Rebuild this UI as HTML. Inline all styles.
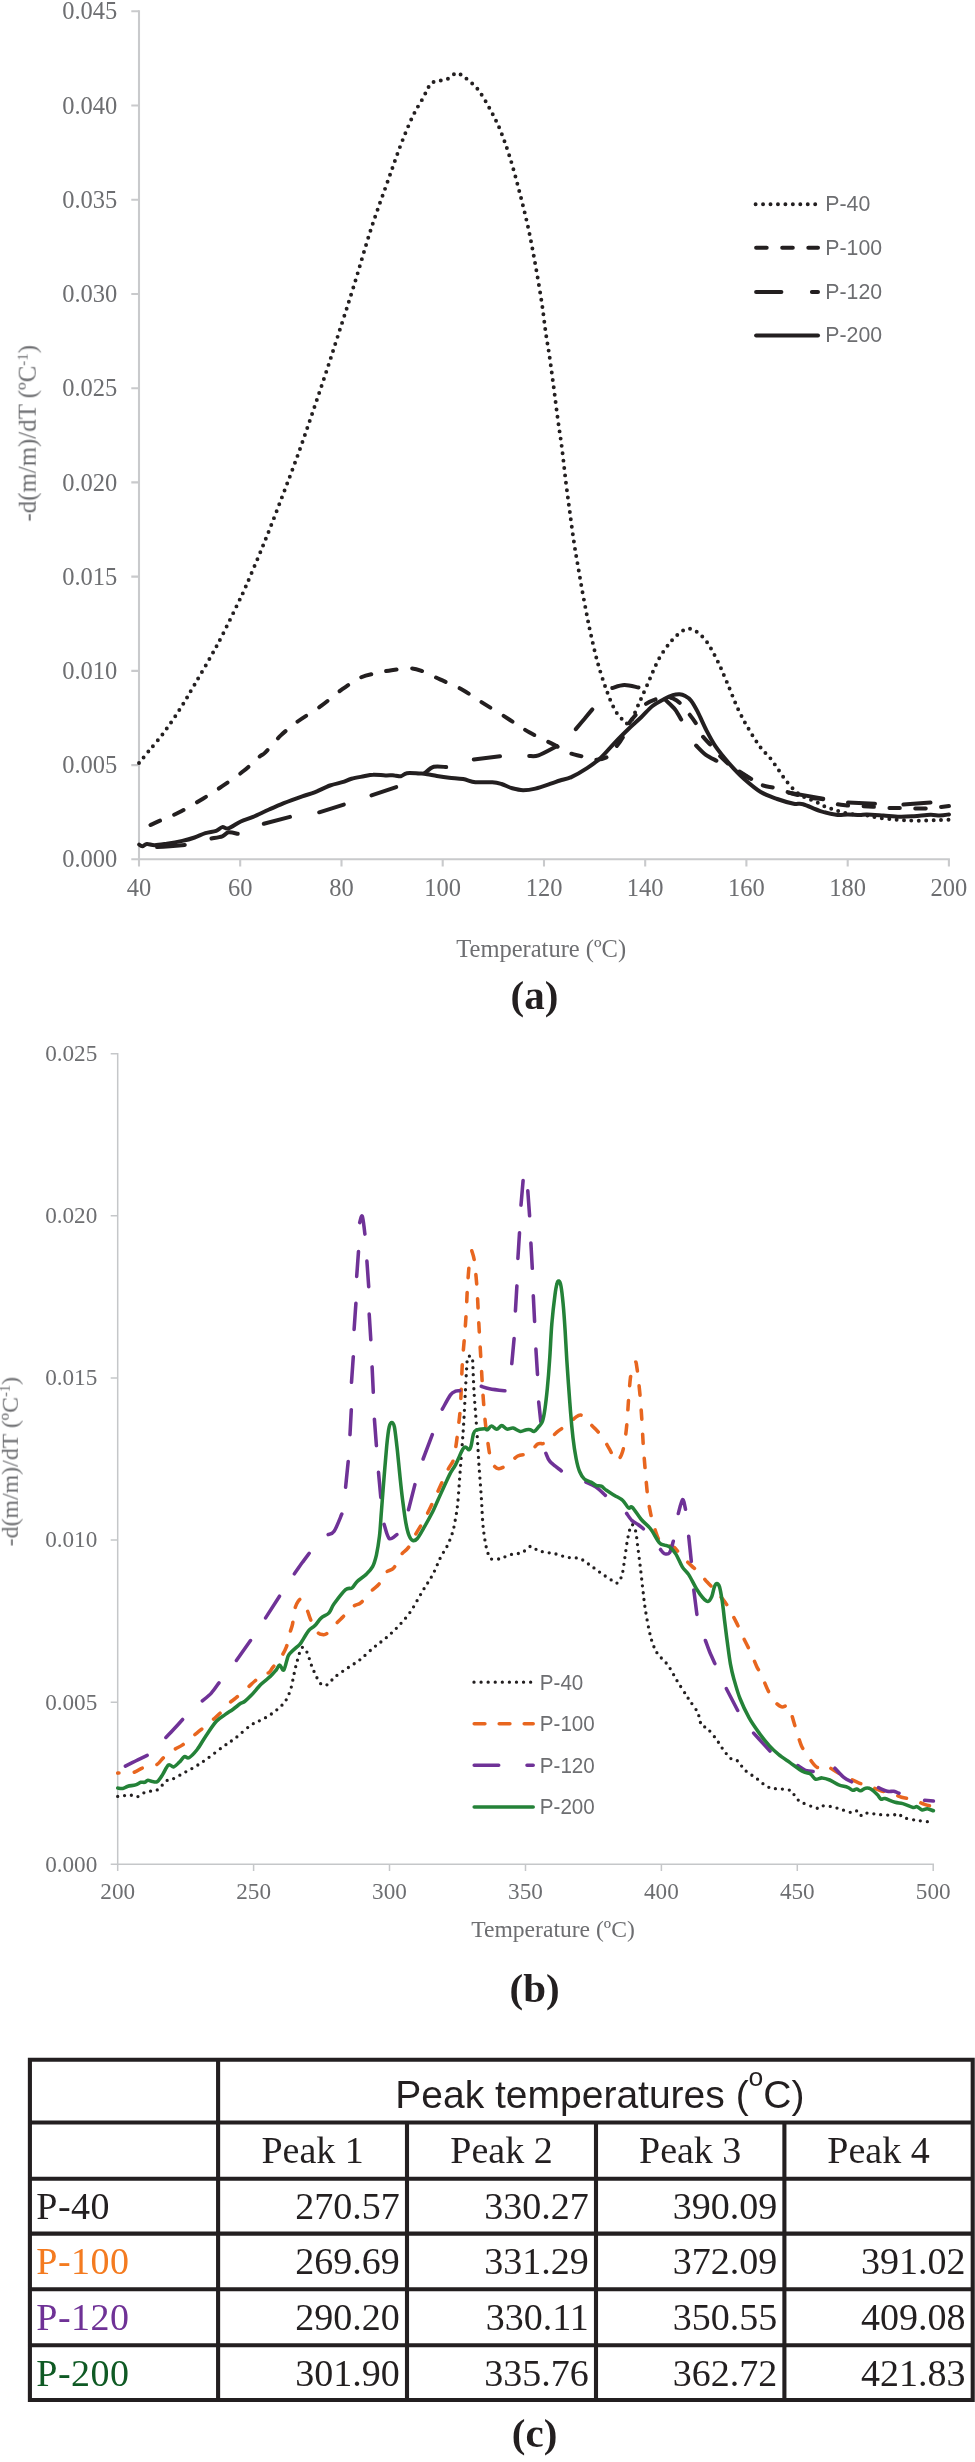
<!DOCTYPE html>
<html lang="en">
<head>
<meta charset="utf-8">
<title>DTG curves and peak temperatures</title>
<style>
html,body{margin:0;padding:0;background:#fff;}
body{width:975px;height:2462px;overflow:hidden;}
svg{display:block;will-change:transform;}
.tk{font-family:"Liberation Serif", "Times New Roman", serif;fill:#6d6e71;}
.lg{font-family:"Liberation Sans", Arial, sans-serif;fill:#6d6e71;}
.cap{font-family:"Liberation Serif", "Times New Roman", serif;font-weight:bold;fill:#231f20;}
.tb{font-family:"Liberation Serif", "Times New Roman", serif;fill:#231f20;}
.ln{fill:none;stroke-linecap:round;stroke-linejoin:round;}
</style>
</head>
<body>
<svg width="975" height="2462" viewBox="0 0 975 2462">
<rect x="0" y="0" width="975" height="2462" fill="#ffffff"/>
<g opacity="0.999">

<g id="chart-a">
<g stroke="#c9cacc" stroke-width="2.1" fill="none">
<path d="M139 10.2 V866.6 M131.3 859.3 H949.9"/>
<path d="M131.3 765.1 H139 M131.3 670.9 H139 M131.3 576.6 H139 M131.3 482.4 H139 M131.3 388.2 H139 M131.3 294 H139 M131.3 199.7 H139 M131.3 105.5 H139 M131.3 11.3 H139 M240.2 859.3 V866.6 M341.5 859.3 V866.6 M442.7 859.3 V866.6 M544 859.3 V866.6 M645.2 859.3 V866.6 M746.4 859.3 V866.6 M847.7 859.3 V866.6 M948.9 859.3 V866.6"/>
</g>
<g class="tk" font-size="24.5">
<text x="117.3" y="867.4" text-anchor="end">0.000</text>
<text x="117.3" y="773.2" text-anchor="end">0.005</text>
<text x="117.3" y="679" text-anchor="end">0.010</text>
<text x="117.3" y="584.7" text-anchor="end">0.015</text>
<text x="117.3" y="490.5" text-anchor="end">0.020</text>
<text x="117.3" y="396.3" text-anchor="end">0.025</text>
<text x="117.3" y="302.1" text-anchor="end">0.030</text>
<text x="117.3" y="207.8" text-anchor="end">0.035</text>
<text x="117.3" y="113.6" text-anchor="end">0.040</text>
<text x="117.3" y="19.4" text-anchor="end">0.045</text>
<text x="139" y="896" text-anchor="middle">40</text>
<text x="240.2" y="896" text-anchor="middle">60</text>
<text x="341.5" y="896" text-anchor="middle">80</text>
<text x="442.7" y="896" text-anchor="middle">100</text>
<text x="544" y="896" text-anchor="middle">120</text>
<text x="645.2" y="896" text-anchor="middle">140</text>
<text x="746.4" y="896" text-anchor="middle">160</text>
<text x="847.7" y="896" text-anchor="middle">180</text>
<text x="948.9" y="896" text-anchor="middle">200</text>
<text x="541.2" y="956.6" text-anchor="middle">Temperature (ºC)</text>
<text transform="translate(35.7 433.3) rotate(-90)" text-anchor="middle" font-size="24.9">-d(m/m)/dT (ºC<tspan font-size="15" dy="-8.5">-1</tspan><tspan dy="8.5">)</tspan></text>
</g>
<g class="ln" stroke="#231f20" stroke-width="4.0">
<path d="M139 763 C140.6 761.1 144.2 756.6 148.5 751.4 C152.8 746.2 159.1 739 164.5 731.7 C169.9 724.4 175.8 715.6 180.8 707.7 C185.8 699.9 189.6 693.1 194.6 684.6 C199.6 676.1 205.7 665.6 210.6 656.9 C215.5 648.2 219.2 641.4 223.8 632.3 C228.4 623.2 234.6 610.3 238.3 602.5 C242.1 594.7 242.1 595.1 246.3 585.4 C250.5 575.7 257.9 558.2 263.5 544.5 C269.1 530.8 274.5 516.8 279.8 502.9 C285.1 489 290.4 475.3 295.5 461.4 C300.6 447.4 305.5 433.2 310.3 419.2 C315.1 405.1 319.8 391.2 324.5 377.1 C329.2 363 333.4 349.9 338.3 334.6 C343.2 319.3 348.5 303.1 354 285.4 C359.5 267.7 365.4 246.2 371.2 228.5 C376.9 210.8 383.6 193.1 388.5 179.2 C393.4 165.2 396.8 155.2 400.8 144.8 C404.8 134.4 408.8 124.7 412.5 116.8 C416.2 108.9 420.3 103 423.2 97.7 C426.1 92.4 427.8 87.6 430 84.8 C432.2 82 434 81.9 436.2 81.1 C438.4 80.3 440.9 80.8 443.2 80.2 C445.5 79.6 447.9 78.9 450 77.7 C452.1 76.5 453.9 73.5 455.8 73.1 C457.8 72.7 459.7 74.1 461.7 75.2 C463.7 76.3 465 77.3 467.8 79.8 C470.6 82.3 474.9 85.4 478.6 90.3 C482.3 95.2 486.4 102.5 490 109.1 C493.6 115.7 496.9 121.9 500.2 130 C503.5 138.1 506.7 147.2 510 157.7 C513.3 168.2 516.7 181.2 519.8 193.1 C522.9 205 525.9 217.1 528.5 229.1 C531.1 241.1 533.3 253.2 535.5 265.4 C537.7 277.6 540 291.3 541.7 302.3 C543.4 313.3 544.4 323.1 545.6 331.6 C546.8 340.2 547.8 345 549.1 353.6 C550.4 362.2 551.7 372.3 553.2 383.3 C554.7 394.3 556.4 408.8 557.9 419.8 C559.4 430.8 560.7 438.3 562.1 449.4 C563.5 460.5 565 475.3 566.4 486.3 C567.8 497.3 569 505.8 570.3 515.6 C571.6 525.4 573.1 536.5 574.4 545 C575.7 553.5 576.9 559.6 578.1 566.9 C579.4 574.2 580.6 581.5 581.9 588.9 C583.2 596.2 584.7 603.7 586.1 611 C587.5 618.3 588.6 624.4 590.5 632.7 C592.4 641 594.6 651.4 597.2 660.9 C599.8 670.4 603.3 681.3 606.3 689.6 C609.3 697.9 612.2 705.2 615.3 710.6 C618.4 716 622.7 719.7 624.8 721.8 C626.9 723.9 626.9 723.5 628 723.3 C629.1 723.1 629.9 723.4 631.5 720.5 C633.1 717.6 635.2 711.8 637.8 706 C640.4 700.2 643.4 693.5 646.9 685.7 C650.4 677.9 654.7 666.6 658.8 659.1 C662.9 651.6 667.7 645.4 671.7 640.6 C675.7 635.8 680.1 632.5 683 630.5 C685.9 628.5 687 628.5 689.3 628.7 C691.5 628.9 693.6 629.4 696.5 631.6 C699.4 633.8 703.2 636.8 706.7 641.7 C710.2 646.6 714.1 654.1 717.5 660.9 C720.9 667.7 723.5 674.3 727 682.4 C730.5 690.5 734.5 701.5 738.2 709.4 C741.9 717.3 745.3 723.3 749.1 729.7 C752.9 736.1 757.1 742.9 760.8 747.8 C764.4 752.7 767.3 754.3 771 759.1 C774.7 763.9 779.9 772.2 783.1 776.6 C786.3 781 787.7 782.9 790 785.5 C792.3 788.1 794.7 790.6 797 792.5 C799.3 794.4 801.6 795.8 804 797 C806.4 798.2 809 799 811.4 800 C813.8 801 816.1 801.9 818.5 803 C820.9 804.1 823.1 805.8 825.5 806.8 C827.9 807.8 830.2 808.4 832.6 809.2 C835 810 837.1 810.8 839.7 811.5 C842.3 812.2 845 812.9 848 813.5 C851 814.1 854.7 814.7 858 815 C861.3 815.3 865 815.1 868 815.5 C871 815.9 872.6 816.8 876.3 817.4 C880 818 885.7 818.6 890.4 819.1 C895.1 819.6 899.9 820 904.6 820.3 C909.3 820.6 913.6 820.7 918.7 820.7 C923.8 820.7 930.2 820.4 935.2 820.3 C940.2 820.1 946.7 819.9 949 819.8" stroke-width="3.95" stroke-dasharray="0 7.394"/>
<path d="M150.5 825 C152.2 824.2 156 822.4 160.8 820.3 C165.6 818.2 172.5 815.7 179.2 812.3 C185.9 808.9 193.6 804.4 200.8 800 C208 795.6 215.1 791.1 222.3 786.2 C229.5 781.3 237.7 775.7 243.8 770.8 C250 765.9 255.6 760 259.2 756.9 C262.8 753.8 261.8 755.9 265.4 752.3 C269 748.7 275.4 740.5 280.8 735.4 C286.2 730.3 291 726.4 297.7 721.5 C304.4 716.6 313.4 711.6 320.8 706.2 C328.2 700.8 335.6 694 342.3 689.2 C349 684.4 355.2 680.2 360.8 677.5 C366.4 674.8 371.1 674.4 376.2 673.2 C381.3 672 385.9 671 391.5 670.2 C397.1 669.4 405 668.2 410 668.3 C415 668.4 416.5 668.9 421.5 670.8 C426.5 672.6 433.3 676.3 440 679.4 C446.7 682.5 454.3 685.2 461.5 689.2 C468.7 693.2 475.4 698.2 483.1 703.1 C490.8 708 500 713.6 507.7 718.5 C515.4 723.4 521.5 727.9 529.2 732.3 C536.9 736.6 547.2 741.2 553.8 744.6 C560.4 748 564.5 750.9 569 752.8 C573.5 754.7 576.7 755 580.8 756.1 C584.9 757.2 589.5 759.5 593.8 759.7 C598 759.9 602.7 759.5 606.3 757.5 C609.9 755.5 612.6 751.1 615.3 747.8 C618 744.5 620.5 741.6 622.7 737.6 C625 733.6 626.6 727.4 628.8 723.6 C630.9 719.9 633 718.2 635.6 715.1 C638.2 712 641.2 707.5 644.6 704.9 C648 702.3 652.2 700.5 655.9 699.3 C659.6 698.1 664.1 697.6 667 697.5 C669.9 697.4 670.9 697.6 673 698.5 C675.1 699.4 676.9 700.1 679.6 702.7 C682.3 705.3 686.4 710.4 689.1 713.9 C691.9 717.4 693.9 720 696.1 723.6 C698.3 727.2 699.8 731.9 702.1 735.4 C704.4 738.9 707 741 710 744.4 C713 747.8 716.3 752.2 720 756 C723.7 759.8 728 763.8 732 767 C736 770.2 739 772 744 775 C749 778 756.8 782.8 762 785 C767.2 787.2 770 786.6 775 788 C780 789.4 786.2 791.8 792 793.5 C797.8 795.2 805 797.1 810 798 C815 798.9 817.8 798 822 799 C826.2 800 830.8 802.6 835 803.7 C839.2 804.8 842.7 805 847 805.4 C851.3 805.8 856.7 805.9 861 806.1 C865.3 806.3 868.7 806.5 873 806.8 C877.3 807.1 882.7 807.8 887 808 C891.3 808.2 894.8 807.9 899 808 C903.2 808.1 907.7 808.4 912 808.5 C916.3 808.6 920.7 808.7 925 808.5 C929.3 808.3 934 807.7 938 807.3 C942 806.9 947.2 806.3 949 806.1" stroke-dasharray="10.5 15.4"/>
<path d="M157.1 847.1 C159.2 847 165.4 846.6 170 846.2 C174.6 845.8 182.3 845.1 184.8 844.9 M211.5 838.5 C213.3 838.1 219.5 837.3 222.3 836.3 C225.1 835.3 225.9 832.7 228.5 832.3 C231.1 831.9 236.2 833.5 237.7 833.8 M263.8 823.7 L290 816.9 M319.2 812.3 L343.8 804.6 M371.5 795.4 L396.2 787.1 M424.6 773.2 C426.1 772.1 430.2 767.8 433.8 766.8 C437.4 765.8 444.1 767 446.2 767.1 M473.8 759.4 L500 756.3 M529.2 756 C530.8 755.9 533.9 757 538.5 755.4 C543.1 753.8 553.8 747.7 556.9 746.2 M575.8 729.1 C577.3 727.3 582 721.8 584.8 718.5 C587.5 715.2 591 710.9 592.3 709.4 M612.3 688 C614.3 687.5 619.9 685.2 624.3 685.1 C628.7 685 636.1 687.1 638.5 687.5 M666 700.4 C667.5 701.9 672.6 706.2 675.1 709.4 C677.6 712.6 680.2 717.9 681.2 719.6 M696.1 745.5 C697.7 747 702.1 752.1 705.5 754.6 C708.9 757.1 714.6 759.7 716.4 760.7 M739.4 771.5 L751.2 779 M789 792.7 L823.2 798.6 M848 802.6 L875 803.7 M903.4 804.5 L930.5 802.6"/>
<path d="M139.2 844.6 C139.7 844.9 141 846.3 142.3 846.2 C143.6 846.1 144.9 844.2 146.9 844 C148.9 843.8 151.3 845.2 154.6 845.2 C157.9 845.2 162.3 844.4 166.9 843.7 C171.5 843 177.7 841.9 182.3 840.9 C186.9 839.9 190.8 838.8 194.6 837.5 C198.4 836.2 201.8 834.3 205.4 833.2 C209 832.1 213.4 831.8 216.2 830.8 C219 829.8 220.2 827.5 222.3 827.1 C224.4 826.7 225.4 829.2 228.5 828.3 C231.6 827.4 236.7 823.4 240.8 821.5 C244.9 819.6 248.5 818.9 253.1 816.9 C257.7 814.9 263.4 812.1 268.5 809.8 C273.6 807.5 278.2 805.4 283.8 803.1 C289.4 800.9 297.2 798.1 302.3 796.3 C307.4 794.5 310 794.1 314.6 792.3 C319.2 790.5 325.4 787.2 330 785.5 C334.6 783.8 338.7 783.3 342.3 782.2 C345.9 781.1 347.9 779.8 351.5 778.8 C355.1 777.8 360.2 777 363.8 776.3 C367.4 775.6 369.5 774.9 373.1 774.8 C376.7 774.6 381.8 775.3 385.4 775.4 C389 775.5 392 775.2 394.6 775.4 C397.2 775.5 398.8 776.7 400.8 776.3 C402.9 775.9 403.8 773.7 406.9 773.2 C410 772.7 416.2 773.4 419.2 773.5 C422.1 773.6 421.7 773.4 424.6 773.8 C427.6 774.2 432.8 775.3 436.9 776 C441 776.7 444.8 777.3 449.2 777.8 C453.6 778.3 458.7 778.4 463.1 779.1 C467.5 779.8 470.5 781.7 475.4 782.2 C480.3 782.7 487.9 781.9 492.3 782.2 C496.7 782.5 498.2 783 501.5 784 C504.8 785 508.7 787.3 512.3 788.3 C515.9 789.3 519.2 790.2 523.1 790.2 C527 790.2 530.8 789.7 535.4 788.6 C540 787.5 546.7 785.1 550.8 783.7 C554.9 782.4 556.6 781.6 560 780.5 C563.4 779.4 566.8 779.2 571.3 777.1 C575.8 775 582.2 771.3 587.1 768.1 C592 764.9 596.1 762 600.6 757.9 C605.1 753.8 609.7 748 614.2 743.3 C618.7 738.6 623.2 734 627.7 729.7 C632.2 725.4 637.1 721.2 641.2 717.3 C645.3 713.3 648.7 709 652.5 706 C656.3 703 660.4 701.1 663.8 699.3 C667.2 697.5 670.2 696 672.8 695.2 C675.4 694.4 677.5 694.2 679.6 694.3 C681.7 694.4 683.3 694.9 685.2 695.9 C687.1 696.9 688.8 697.8 690.9 700.4 C693 703 695 706.6 697.6 711.7 C700.2 716.8 703.7 725.1 706.7 730.9 C709.7 736.7 712 741.2 715.7 746.7 C719.5 752.2 724.5 758.2 729.2 763.6 C734 769 739 774.3 744.2 779 C749.5 783.7 755.2 788.7 760.7 792 C766.2 795.3 771.7 797 777.2 799 C782.7 801 789.4 802.8 793.7 803.7 C798 804.6 798.8 803 803.1 804.2 C807.4 805.4 814.1 809 819.6 810.8 C825.1 812.6 831.5 814.2 836.2 814.8 C840.9 815.4 844.1 814.3 848 814.4 C851.9 814.5 856.6 815.1 859.7 815.1 C862.8 815.1 862.9 814.3 866.8 814.4 C870.7 814.5 877.8 815.1 883.3 815.5 C888.8 815.9 894.8 816.6 899.9 816.7 C905 816.8 908.9 816.5 914 816.2 C919.1 815.9 926.2 814.9 930.5 814.8 C934.8 814.7 936.9 815.6 940 815.5 C943.1 815.4 947.5 814.6 949 814.4"/>
</g>
<g class="ln" stroke="#231f20" stroke-width="4.0">
<path d="M755.6 204.3 H818.5" stroke-width="3.95" stroke-dasharray="0 7.45"/>
<path d="M756.1 247.8 H818" stroke-dasharray="10.6 15.5"/>
<path d="M756.1 292 H781.4 M811.9 292 H818"/>
<path d="M756.1 335.5 H818"/>
</g>
<g class="lg" font-size="22.3">
<text transform="translate(825.3 211.2) scale(0.955 1)">P-40</text>
<text transform="translate(825.3 254.9) scale(0.955 1)">P-100</text>
<text transform="translate(825.3 298.7) scale(0.955 1)">P-120</text>
<text transform="translate(825.3 342.4) scale(0.955 1)">P-200</text>
</g>
<text class="cap" x="534.4" y="1008.5" font-size="41" text-anchor="middle">(a)</text>
</g>
<g id="chart-b">
<g stroke="#c5c7c9" stroke-width="1.5" fill="none">
<path d="M117.7 1053 V1870.9 M110.7 1864.3 H934"/>
<path d="M110.7 1702.2 H117.7 M110.7 1540.1 H117.7 M110.7 1377.9 H117.7 M110.7 1215.8 H117.7 M110.7 1053.7 H117.7 M253.6 1864.3 V1870.9 M389.5 1864.3 V1870.9 M525.5 1864.3 V1870.9 M661.4 1864.3 V1870.9 M797.3 1864.3 V1870.9 M933.2 1864.3 V1870.9"/>
</g>
<g class="tk" font-size="23.2">
<text x="97.3" y="1871.6" text-anchor="end">0.000</text>
<text x="97.3" y="1709.5" text-anchor="end">0.005</text>
<text x="97.3" y="1547.4" text-anchor="end">0.010</text>
<text x="97.3" y="1385.2" text-anchor="end">0.015</text>
<text x="97.3" y="1223.1" text-anchor="end">0.020</text>
<text x="97.3" y="1061" text-anchor="end">0.025</text>
<text x="117.7" y="1898.8" text-anchor="middle">200</text>
<text x="253.6" y="1898.8" text-anchor="middle">250</text>
<text x="389.5" y="1898.8" text-anchor="middle">300</text>
<text x="525.5" y="1898.8" text-anchor="middle">350</text>
<text x="661.4" y="1898.8" text-anchor="middle">400</text>
<text x="797.3" y="1898.8" text-anchor="middle">450</text>
<text x="933.2" y="1898.8" text-anchor="middle">500</text>
<text x="553" y="1936.8" text-anchor="middle" font-size="23.6">Temperature (ºC)</text>
<text transform="translate(17.8 1461.6) rotate(-90)" text-anchor="middle" font-size="23.85">-d(m/m)/dT (ºC<tspan font-size="14.5" dy="-8.2">-1</tspan><tspan dy="8.2">)</tspan></text>
</g>
<g class="ln" stroke-width="3.55">
<path d="M117.7 1796.4 C118.8 1796.3 122 1795.8 124.1 1795.6 C126.2 1795.4 128.4 1794.9 130.5 1795.1 C132.6 1795.3 134.8 1797.2 136.9 1796.9 C139 1796.6 141.2 1794 143.3 1793.1 C145.4 1792.2 147.5 1791.7 149.7 1791.3 C151.8 1790.9 154.3 1791.3 156.2 1790.5 C158.1 1789.7 159.7 1787.8 161.3 1786.2 C162.9 1784.6 164 1782.2 165.9 1781 C167.8 1779.8 169.7 1780.4 172.8 1779 C175.9 1777.6 180.6 1774.7 184.4 1772.6 C188.2 1770.5 192.1 1768.5 195.9 1766.2 C199.7 1763.9 202.9 1761.7 207.4 1758.5 C211.9 1755.3 218.1 1750.3 222.8 1746.9 C227.5 1743.5 230.9 1741.5 235.6 1737.9 C240.3 1734.3 246.3 1728.3 251 1725.1 C255.7 1721.9 259.7 1721 263.8 1718.7 C267.9 1716.4 271.8 1713.9 275.4 1711 C278.9 1708.1 282.5 1705.2 285.1 1701.5 C287.7 1697.8 289.3 1693.3 290.8 1688.7 C292.3 1684.1 293 1678.4 294.1 1673.8 C295.2 1669.2 295.9 1665.3 297.2 1661 C298.5 1656.7 300.2 1649.2 301.8 1647.7 C303.4 1646.2 305.3 1649.2 306.9 1652.1 C308.5 1655 309.9 1661.3 311.3 1664.9 C312.7 1668.5 313.6 1670.7 315.1 1673.8 C316.6 1676.9 318.4 1681.4 320.3 1683.3 C322.2 1685.2 324.1 1686.1 326.7 1684.9 C329.2 1683.8 332 1679.3 335.6 1676.4 C339.2 1673.5 344.4 1670.2 348.5 1667.4 C352.6 1664.6 355.8 1663 360 1659.7 C364.2 1656.4 369.6 1650.9 373.8 1647.4 C378 1643.9 381.5 1641.8 385.4 1638.5 C389.2 1635.2 392.8 1632 396.9 1627.7 C400.9 1623.4 405.4 1618.9 409.7 1612.8 C414 1606.7 418.8 1597.4 422.6 1591 C426.5 1584.6 429.9 1579.9 432.8 1574.4 C435.8 1568.9 437.9 1562.7 440.3 1557.9 C442.7 1553.1 445.3 1549.9 447.4 1545.6 C449.4 1541.3 451.2 1536.9 452.6 1532.3 C454 1527.7 454.8 1522.7 455.6 1517.9 C456.5 1513.1 457.1 1509.4 457.7 1503.6 C458.3 1497.8 458.8 1489.9 459.3 1483.1 C459.8 1476.3 460.3 1469.4 460.8 1462.6 C461.3 1455.8 461.9 1448.9 462.4 1442.1 C462.9 1435.2 463.3 1429.7 463.8 1421.5 C464.3 1413.3 464.8 1402.4 465.3 1392.8 C465.8 1383.2 466.5 1370.1 466.9 1364.1 C467.3 1358.1 467 1358.2 467.9 1357 C468.8 1355.8 471.3 1355.8 472.1 1357 C472.9 1358.2 472.5 1358.1 472.8 1364.1 C473.1 1370.1 473.5 1383.2 474.1 1392.8 C474.7 1402.4 475.6 1413.3 476.2 1421.5 C476.8 1429.7 477.2 1435.2 477.6 1442.1 C478 1448.9 478.4 1455.8 478.8 1462.6 C479.2 1469.4 479.8 1476.3 480.3 1483.1 C480.8 1489.9 481.3 1496.8 481.7 1503.6 C482.1 1510.4 482.3 1517.9 482.9 1524.1 C483.4 1530.2 484.2 1535.7 485 1540.5 C485.8 1545.3 486.7 1549.7 487.8 1552.8 C488.9 1555.9 489.3 1558 491.5 1559 C493.7 1560 498.2 1559.1 500.8 1558.6 C503.4 1558.1 504.7 1556.7 506.9 1555.9 C509.1 1555.1 511.9 1554.2 514.1 1553.8 C516.3 1553.3 518.4 1553.8 520.3 1553.2 C522.2 1552.6 523.6 1551.6 525.4 1550.4 C527.2 1549.2 529 1546.4 530.9 1546.3 C532.8 1546.2 534.7 1548.8 536.7 1549.7 C538.7 1550.6 539.7 1551.1 542.8 1551.8 C545.9 1552.5 551 1552.9 555.1 1553.8 C559.2 1554.7 563.3 1556.5 567.4 1557.3 C571.5 1558.1 575.9 1557.3 579.7 1558.6 C583.5 1559.9 586.6 1562.8 590 1565.1 C593.4 1567.4 596.7 1570.1 600.3 1572.6 C603.9 1575.1 608.9 1578.6 611.8 1580.3 C614.7 1582 616 1583.8 617.7 1582.8 C619.4 1581.8 621 1578.5 622.1 1574.6 C623.2 1570.7 623.8 1564.8 624.6 1559.2 C625.5 1553.7 626.4 1546.2 627.2 1541.3 C628.1 1536.4 628.9 1532.5 629.7 1529.7 C630.6 1526.9 631.3 1524.4 632.3 1524.6 C633.3 1524.8 634.8 1527.8 635.6 1531 C636.5 1534.2 636.7 1538.2 637.4 1543.8 C638.1 1549.4 639.1 1557.1 640 1564.4 C640.9 1571.7 641.8 1580.2 642.6 1587.4 C643.5 1594.7 644 1600.9 645.1 1607.9 C646.2 1615 647.7 1623.7 649 1629.7 C650.3 1635.7 651.3 1639.7 652.8 1643.8 C654.3 1647.9 655.3 1650.5 657.9 1654.1 C660.5 1657.7 665 1661.1 668.2 1665.6 C671.4 1670.1 674.2 1676.1 677.2 1681 C680.2 1685.9 684.1 1691.8 686.2 1695.1 C688.3 1698.4 688.1 1698.1 690 1701 C691.9 1703.9 695.8 1708.5 697.7 1712.6 C699.6 1716.7 700 1722.9 701.5 1725.4 C703 1728 704.4 1725.8 706.7 1727.9 C709.1 1730 712.8 1734.6 715.6 1738.2 C718.4 1741.8 720.7 1746.3 723.3 1749.7 C725.9 1753.1 728.6 1756.9 731 1758.7 C733.4 1760.5 735 1758.9 737.4 1760.8 C739.8 1762.7 741.9 1767.3 745.1 1770.3 C748.3 1773.2 753.1 1775.8 756.7 1778.5 C760.3 1781.2 763.7 1784.7 766.9 1786.4 C770.1 1788.1 772.5 1788.2 775.9 1788.7 C779.3 1789.2 784.6 1788.8 787.4 1789.5 C790.2 1790.2 791.1 1791.1 792.6 1792.6 C794.1 1794.1 794.7 1796.8 796.4 1798.5 C798.1 1800.2 799.8 1801.3 802.8 1802.8 C805.8 1804.3 811.6 1806.5 814.4 1807.4 C817.2 1808.3 817.8 1808.5 819.5 1808.2 C821.2 1807.9 821.6 1805.6 824.6 1805.6 C827.6 1805.6 832.9 1807 837.4 1808.2 C841.9 1809.4 848.1 1812.2 851.5 1812.6 C854.9 1813 856.2 1810.2 857.9 1810.8 C859.6 1811.3 860.3 1815.5 861.8 1815.9 C863.3 1816.3 863.9 1813.3 866.9 1813.1 C869.9 1812.9 875.4 1814.3 879.7 1814.6 C884 1814.9 889.5 1815.2 892.6 1815.1 C895.7 1815 896.3 1813.4 898.2 1813.8 C900.1 1814.2 901 1816.6 904.1 1817.7 C907.2 1818.8 912.4 1819.6 916.9 1820.3 C921.4 1821 928.2 1821.8 931 1822.1 C933.8 1822.4 933 1822.3 933.4 1822.3" stroke="#231f20" stroke-width="3.3" stroke-dasharray="0 6.9"/>
<path d="M117.7 1773.1 C120.3 1773 128.9 1773.5 133.1 1772.6 C137.3 1771.7 139 1769.2 142.8 1767.9 C146.7 1766.6 152.8 1766.6 156.2 1764.9 C159.6 1763.2 160.4 1760.4 163.3 1757.9 C166.2 1755.4 170.4 1752.2 173.6 1750 C176.8 1747.8 179.3 1747.2 182.6 1744.9 C185.9 1742.6 190.2 1738.4 193.3 1735.9 C196.4 1733.4 197.8 1732.4 201 1729.7 C204.2 1727 209.5 1722.7 212.6 1720 C215.7 1717.3 216.9 1716.4 219.7 1713.6 C222.5 1710.8 226.5 1705.9 229.2 1703.3 C231.8 1700.7 232.5 1700.8 235.6 1698.2 C238.7 1695.6 244.7 1690.3 247.9 1687.4 C251.1 1684.5 252.1 1683.3 254.9 1681 C257.7 1678.7 262.2 1674.7 264.6 1673.3 C267 1671.9 267.6 1673.6 269 1672.6 C270.4 1671.6 270.9 1669.9 272.8 1667.4 C274.7 1665 278.2 1661.3 280.5 1657.9 C282.8 1654.5 284.9 1650.9 286.4 1646.9 C287.9 1642.9 288.5 1637.9 289.5 1634.1 C290.5 1630.2 291.8 1627.8 292.6 1623.8 C293.4 1619.8 293.5 1614 294.4 1610.3 C295.3 1606.5 297 1603 298.2 1601.3 C299.4 1599.6 300 1598.5 301.5 1600 C303 1601.5 305.6 1606.9 307.2 1610.3 C308.8 1613.7 309.3 1616.9 311 1620.5 C312.7 1624.1 315.5 1629.8 317.4 1632.1 C319.3 1634.4 321 1634.4 322.6 1634.6 C324.2 1634.8 324.9 1635.2 327.2 1633.3 C329.5 1631.4 334 1625.9 336.7 1623.1 C339.4 1620.3 340.3 1619.5 343.1 1616.7 C345.9 1613.9 350.3 1608.8 353.3 1606.4 C356.3 1604.1 358 1605.2 361 1602.6 C364 1600 368.3 1594.1 371.3 1591 C374.3 1587.9 376.5 1587.2 379 1584.1 C381.5 1581 383.7 1575 386.2 1572.3 C388.7 1569.6 391.4 1570.8 393.8 1567.9 C396.2 1565 398.4 1558.5 400.8 1555.1 C403.2 1551.7 405.9 1551 408.5 1547.4 C411.1 1543.8 413.6 1537.8 416.2 1533.3 C418.8 1528.8 421.2 1525.2 423.8 1520.5 C426.4 1515.8 428.9 1510.4 431.5 1505.1 C434.1 1499.8 436.4 1494.5 439.2 1488.5 C442 1482.5 445.8 1473.9 448.2 1469.2 C450.6 1464.5 452 1464.1 453.3 1460.3 C454.6 1456.5 455 1452 455.9 1446.2 C456.8 1440.4 457.7 1432.4 458.5 1425.6 C459.3 1418.8 459.9 1415 460.5 1405.1 C461.1 1395.2 461.6 1377.4 462.2 1366.2 C462.8 1355 463.7 1346.8 464.4 1337.9 C465.1 1329.1 465.7 1321.4 466.2 1313.1 C466.7 1304.8 466.9 1296.2 467.4 1287.9 C467.9 1279.7 468.9 1267.6 469.2 1263.6" stroke="#e8661f" stroke-dasharray="9.2 15" stroke-dashoffset="7.7"/>
<path d="M471.8 1250.8 C472.2 1252.5 473.5 1255 474.4 1261 C475.2 1267 476.3 1278.4 476.9 1286.7 C477.5 1295 477.8 1302.9 478.2 1311 C478.6 1319.1 479 1327.1 479.5 1335.4 C480 1343.7 480.5 1352.9 481 1361 C481.5 1369.1 481.9 1376.9 482.3 1384.1 C482.8 1391.3 483.1 1397 483.7 1404.1 C484.3 1411.2 484.8 1418.5 485.8 1426.7 C486.8 1434.9 488.4 1447.2 489.5 1453.3 C490.6 1459.4 491.1 1461 492.6 1463.6 C494.1 1466.2 496.2 1468.5 498.7 1468.7 C501.2 1468.9 504.3 1466.7 507.5 1464.6 C510.7 1462.5 514.3 1457.9 517.8 1456 C521.3 1454.1 525.2 1455.3 528.5 1453.3 C531.8 1451.3 535.3 1445.7 537.7 1444.1 C540.1 1442.5 541.1 1444.1 542.8 1443.7 C544.5 1443.3 545.5 1443.6 547.9 1441.6 C550.3 1439.6 554.1 1434.5 557.2 1431.8 C560.3 1429.1 563.3 1428 566.4 1425.6 C569.5 1423.2 573.2 1419.2 575.6 1417.4 C578 1415.6 579.1 1414.6 580.8 1415 C582.5 1415.4 583.7 1417.8 585.9 1419.9 C588.1 1422 591.4 1424.9 594.1 1427.7 C596.8 1430.5 599.8 1433.5 602.3 1436.9 C604.8 1440.3 606.8 1444.6 608.9 1448.2 C611 1451.8 613.1 1456.5 614.6 1458.5 C616.1 1460.5 616.5 1461.3 617.7 1460.5 C618.9 1459.7 620.7 1456.8 621.8 1453.9 C622.9 1451 623.6 1448.1 624.5 1443.1 C625.4 1438 626.2 1430.9 626.9 1423.6 C627.6 1416.2 628 1406.6 628.6 1399 C629.2 1391.4 629.8 1382.9 630.4 1378 C631 1373.1 632.1 1371.1 632.4 1369.7" stroke="#e8661f" stroke-dasharray="9.2 15" stroke-dashoffset="0"/>
<path d="M635.8 1362 C635.9 1362.3 635.9 1361.4 636.3 1363.6 C636.6 1365.8 637.2 1368.9 637.9 1374.9 C638.6 1380.9 639.7 1391.3 640.4 1399.5 C641.1 1407.7 641.6 1415.9 642.1 1424.1 C642.6 1432.3 642.9 1440.5 643.5 1448.7 C644.1 1456.9 644.8 1465.2 645.5 1473.3 C646.2 1481.4 647 1491.1 647.8 1497.5 C648.6 1503.9 649.5 1507.7 650.3 1511.8 C651.1 1515.9 651.9 1518.9 652.8 1522.1 C653.7 1525.3 654.4 1527.8 655.5 1531 C656.6 1534.2 658.2 1539.2 659.7 1541.5 C661.2 1543.8 662.8 1543.8 664.4 1544.6 C666 1545.3 667.8 1545.5 669.5 1546 C671.2 1546.5 672.7 1546.1 674.6 1547.7 C676.5 1549.3 678.2 1552.4 681 1555.4 C683.8 1558.4 688.3 1562.7 691.3 1565.6 C694.3 1568.5 696.3 1569.8 699 1572.6 C701.7 1575.4 704.8 1579.5 707.4 1582.3 C710 1585.1 711.5 1586.3 714.4 1589.5 C717.3 1592.7 722 1598.1 724.6 1601.5 C727.2 1604.9 727.8 1606.6 729.7 1610 C731.6 1613.4 734.4 1618.4 736.2 1622.1 C738.1 1625.8 739.1 1628.7 740.8 1632.3 C742.5 1635.9 744.6 1640.2 746.4 1643.8 C748.2 1647.4 749.8 1650.3 751.5 1654.1 C753.2 1657.9 755 1662.8 756.7 1666.4 C758.4 1670 760.1 1672.3 761.8 1675.9 C763.5 1679.5 765.1 1684.1 766.9 1687.9 C768.7 1691.8 770.2 1695.9 772.6 1699 C775 1702.1 778.5 1705.6 781 1706.7 C783.5 1707.8 785.9 1705 787.4 1705.4 C788.9 1705.8 788.9 1706.4 790 1709.2 C791.1 1712 792.6 1718.1 793.8 1722.1 C795 1726.1 795.9 1729.1 797.2 1733.1 C798.5 1737.1 799.8 1742.2 801.5 1745.9 C803.2 1749.6 804.8 1751.9 807.4 1755.4 C810 1759 814 1765.6 816.9 1767.2 C819.8 1768.8 820.8 1764 824.6 1765.1 C828.5 1766.2 834.2 1771 840 1774 C845.8 1777 854.7 1781.2 859.2 1783.1 C863.7 1784.9 863.3 1783.8 866.9 1785.1 C870.5 1786.4 877.4 1789.6 881 1790.8 C884.6 1792 885.3 1791 888.7 1792.1 C892.1 1793.2 897.6 1796 901.5 1797.2 C905.4 1798.4 907.9 1798 911.8 1799.2 C915.6 1800.4 921 1803.2 924.6 1804.4 C928.2 1805.7 931.9 1806.3 933.4 1806.7" stroke="#e8661f" stroke-dasharray="9.2 15" stroke-dashoffset="0"/>
<path stroke="#6f3297" d="M125.4 1766.2 C127.1 1765.3 132 1762.8 135.6 1761 C139.2 1759.2 145.3 1756.3 147.2 1755.4 M165.9 1737.4 C167.1 1736.2 170 1733.3 172.8 1730.3 C175.6 1727.3 181 1721.3 182.6 1719.5 M202.3 1700.8 C203.8 1699.5 208.5 1696.1 211.3 1693.1 C214.1 1690.1 217.7 1684.5 219 1682.8 M236.4 1660.5 L250.5 1640.5 M265.6 1617.9 L279.5 1596.2 M294.4 1573.8 C295.7 1572 299.6 1566.2 302.1 1562.8 C304.6 1559.4 308 1554.9 309.2 1553.3 M328.2 1534.6 C329.2 1534 331.8 1534.7 334.1 1531.3 C336.4 1527.9 340.5 1517 341.8 1514.1 M345.6 1487.2 L348.2 1461.5 M350 1434.6 L351.3 1409.7 M351.5 1382.3 L353.3 1356.7 M354.1 1329.5 L355.9 1303.3 M356.7 1276.4 L358.5 1251.5 M359.7 1222.6 C360.1 1221.5 361.4 1214.3 362.3 1216.2 C363.2 1218.1 364.5 1231.1 364.9 1234.1 M366.9 1261 L368.7 1286.7 M369.2 1314.1 L370.8 1339.7 M372.1 1366.9 L373.3 1392.3 M374.4 1419.2 L376.4 1445.6 M378.5 1472.3 L380.8 1497.4 M384.1 1524.4 C385 1526.8 387.1 1536.8 389.2 1538.5 C391.3 1540.2 395.6 1535.2 396.9 1534.6 M408.5 1509.7 L414.9 1484.6 M423.1 1459 L432.3 1434.6 M442.3 1409.2 C443.7 1406.8 448.3 1397.9 450.5 1394.9 C452.7 1391.9 454.1 1391.9 455.6 1391.2 C457.1 1390.5 459 1390.9 459.7 1390.8 M481.3 1386.3 C482.7 1386.7 485.6 1388 489.5 1388.7 C493.4 1389.5 502.3 1390.5 504.9 1390.8 M511.8 1363.6 L514.1 1338.5 M515.4 1311 L516.9 1285.9 M517.9 1258.5 L519.5 1232.8 M521 1205.1 L523.1 1180.5 M527.8 1190.8 L529.6 1215.8 M530.9 1243.1 L532.3 1268.3 M533.3 1295.8 L534.6 1321.5 M535.9 1349 L537.5 1374.4 M538.7 1402.1 L540.8 1421.5 M545.9 1453.3 C546.6 1454.7 547.4 1458.6 550 1461.5 C552.6 1464.4 559.4 1469.2 561.3 1470.8 M585.9 1482.1 C587.6 1482.9 592.8 1484.8 596 1487 C599.2 1489.2 603.8 1494 605.4 1495.4 M626.6 1513.4 C627.5 1514.6 630.1 1518.8 632 1520.6 C633.9 1522.4 636.1 1523.1 638 1524.5 C639.9 1525.9 642.5 1528.1 643.4 1528.8 M660.5 1549.5 C661.1 1550.2 662.9 1553 664.4 1553.6 C665.9 1554.1 668 1554.8 669.5 1552.8 C671 1550.8 672.7 1543.2 673.3 1541.3 M678.3 1513.5 C679 1511.2 681.4 1500.3 682.6 1499.6 C683.8 1498.9 685 1507.6 685.5 1509.2 M688.7 1536.2 L691.3 1561.3 M693.8 1590 L696.9 1614.4 M705.4 1640.5 C706.2 1642.5 708.4 1649 710 1652.8 C711.6 1656.6 714.1 1661.8 714.9 1663.6 M726.4 1688.7 L737.7 1710.5 M753.6 1733.1 C755 1734.6 759.1 1739.1 761.8 1742.1 C764.5 1745.1 768.6 1749.5 770 1751 M797.7 1765.6 C799 1766.4 802.8 1769.3 805.4 1770.3 C808 1771.3 811.8 1771.3 813.1 1771.5 M834.9 1768.2 C836.4 1769.7 841 1775.1 843.8 1777.4 C846.6 1779.7 850.2 1781.1 851.5 1781.8 M878.5 1787.7 C880 1788.3 884.9 1790.7 887.4 1791.3 C889.9 1791.9 891.9 1791 893.8 1791.3 C895.7 1791.6 898.1 1793 899 1793.3 M924.6 1800.3 L933.4 1801"/>
<path d="M117.7 1788 C118.5 1788.1 121.1 1788.8 122.8 1788.5 C124.5 1788.2 125.8 1786.8 127.9 1786.2 C130 1785.6 133.4 1785.6 135.6 1784.9 C137.8 1784.2 139.3 1782.7 140.8 1782.3 C142.3 1781.9 143.4 1782.6 144.6 1782.3 C145.8 1782 146.6 1780.4 147.9 1780.3 C149.2 1780.2 150.7 1781.3 152.3 1781.5 C153.9 1781.7 155.7 1782.7 157.4 1781.5 C159.1 1780.3 160.8 1777.4 162.6 1774.6 C164.4 1771.8 166.7 1766.2 168.5 1764.9 C170.3 1763.6 171.8 1767.3 173.6 1766.9 C175.4 1766.5 177.4 1764 179.2 1762.3 C181 1760.6 182.8 1757.5 184.4 1756.7 C186 1755.9 186.9 1758.9 189 1757.7 C191.1 1756.5 194.3 1753.2 197.2 1749.5 C200.1 1745.8 203 1740.1 206.2 1735.4 C209.4 1730.7 213.2 1724.8 216.4 1721.3 C219.6 1717.8 222.6 1716.4 225.4 1714.4 C228.2 1712.4 230.5 1711.1 233.1 1709.2 C235.7 1707.3 238.9 1704.6 240.8 1703.3 C242.7 1702 242.9 1702.8 244.6 1701.5 C246.3 1700.2 248.2 1698.5 251 1695.6 C253.8 1692.7 258.1 1687.3 261.3 1684.1 C264.5 1680.9 267.8 1678.8 270.3 1676.4 C272.8 1674.1 274.6 1671.9 276.2 1670 C277.8 1668.1 278.4 1664.9 279.7 1664.9 C281 1664.9 282.4 1671.5 283.8 1670 C285.2 1668.5 286.8 1659 288.2 1655.9 C289.6 1652.8 290.2 1653.2 292.1 1651.3 C294 1649.4 298 1646.1 299.7 1644.4 C301.4 1642.7 300.6 1643.3 302.1 1641 C303.6 1638.7 306.4 1633.4 308.5 1630.8 C310.6 1628.2 312.8 1627.8 314.9 1625.6 C317 1623.4 318.9 1620 321.3 1617.9 C323.7 1615.8 326.9 1615.2 329 1612.8 C331.1 1610.4 331.3 1607.6 334.1 1603.8 C336.9 1600 342.6 1592.3 345.6 1589.7 C348.6 1587.1 350.2 1589.3 352.1 1587.9 C354 1586.5 354.9 1583.8 357.2 1581.5 C359.5 1579.2 363.6 1576.9 366.2 1574.4 C368.8 1571.9 370.9 1569.9 372.6 1566.7 C374.3 1563.5 375.2 1560.2 376.4 1555.1 C377.5 1550 378.6 1543.4 379.5 1535.9 C380.4 1528.4 380.7 1520.1 381.5 1510.3 C382.3 1500.5 383.2 1487.6 384.1 1476.9 C385 1466.2 385.9 1454.5 386.7 1446.2 C387.5 1437.9 388.3 1430.8 389.2 1426.9 C390.1 1423 390.9 1422.6 391.8 1422.6 C392.7 1422.6 393.5 1423 394.4 1426.9 C395.2 1430.8 396 1438.7 396.9 1446.2 C397.8 1453.7 398.6 1462.8 399.5 1471.8 C400.4 1480.8 401.5 1491.5 402.6 1500 C403.7 1508.5 404.8 1517.1 405.9 1523.1 C407 1529.1 408 1533 409.2 1535.9 C410.4 1538.8 411.4 1540.1 412.8 1540.5 C414.2 1540.9 415.3 1541 417.4 1538.5 C419.4 1536 422.5 1530.1 425.1 1525.6 C427.7 1521.1 430.6 1515.8 432.8 1511.5 C435 1507.2 435.4 1505.6 438.2 1499.5 C441 1493.4 446.6 1480.7 449.5 1474.9 C452.4 1469.1 453.4 1468.9 455.6 1464.6 C457.8 1460.3 461.1 1452.1 462.8 1449.2 C464.5 1446.3 464.9 1447.1 465.9 1447.2 C466.9 1447.3 468.1 1450 469 1449.8 C469.9 1449.6 470.2 1448.9 471 1446.2 C471.8 1443.5 472.6 1436.5 473.5 1433.8 C474.4 1431.1 474.4 1431 476.2 1430.2 C478 1429.4 482.5 1428.8 484.4 1428.7 C486.3 1428.6 486.2 1430.1 487.4 1429.7 C488.6 1429.3 489.9 1426.2 491.5 1426.1 C493.1 1426 495 1429.4 496.7 1429.3 C498.4 1429.2 500.1 1425.6 501.8 1425.6 C503.5 1425.6 505 1428.7 506.9 1429.1 C508.8 1429.5 510.9 1427.7 513.1 1428.1 C515.3 1428.5 518.1 1431.1 520.3 1431.4 C522.5 1431.7 524.7 1430 526.4 1429.7 C528.1 1429.4 529.2 1429.4 530.5 1429.7 C531.8 1430 532.8 1431.9 534.2 1431.4 C535.6 1430.9 537.3 1428.4 538.7 1426.7 C540.1 1425 541.4 1424.4 542.4 1421.5 C543.4 1418.6 544.1 1414.7 544.9 1409.2 C545.7 1403.7 546.5 1396.9 547.3 1388.7 C548.1 1380.5 548.9 1370.8 549.6 1360 C550.4 1349.2 550.9 1334.9 551.8 1324.1 C552.7 1313.3 554 1302.1 554.9 1295.4 C555.8 1288.7 556.2 1286.5 556.9 1284.1 C557.5 1281.7 558.1 1280.7 558.8 1281 C559.5 1281.3 560.3 1282.4 561 1286.2 C561.7 1290 562.4 1296.2 563.1 1303.6 C563.8 1310.9 564.5 1320.9 565.1 1330.3 C565.7 1339.7 566.2 1351 566.8 1360 C567.4 1369 567.9 1376 568.5 1384.6 C569.1 1393.1 569.8 1402.4 570.5 1411.3 C571.2 1420.2 572.1 1430 573 1437.9 C573.9 1445.8 575 1452.8 576.1 1458.5 C577.2 1464.2 578.3 1468.4 579.7 1471.8 C581.1 1475.2 582.4 1477.3 584.3 1479 C586.2 1480.7 589 1481 591 1482.1 C593 1483.2 594.5 1484.8 596.2 1485.5 C597.9 1486.2 599.6 1485.4 601.3 1486.2 C603 1487 604.2 1488.8 606.4 1490.3 C608.6 1491.8 611.9 1493.7 614.6 1495.4 C617.3 1497.1 620.5 1498.4 622.8 1500.5 C625.1 1502.6 626.9 1506.8 628.5 1507.9 C630.1 1509.1 630.2 1505.5 632.3 1507.4 C634.4 1509.3 638.3 1516 641.3 1519.5 C644.3 1523 647.3 1524.7 650.3 1528.5 C653.3 1532.3 656.9 1539.8 659.2 1542.6 C661.6 1545.4 662.7 1544.4 664.4 1545.1 C666.1 1545.8 667.6 1545.4 669.5 1546.9 C671.4 1548.4 673.8 1550.8 675.9 1554.1 C678 1557.4 680.2 1563.5 682.3 1566.9 C684.4 1570.3 686.4 1571 688.7 1574.6 C691.1 1578.2 694 1584.8 696.4 1588.7 C698.8 1592.6 700.9 1595.6 702.8 1597.7 C704.7 1599.8 706.4 1601.7 707.9 1601.5 C709.4 1601.3 710.7 1598.8 711.8 1596.4 C712.9 1594 713.5 1589 714.4 1586.9 C715.2 1584.8 716 1583.6 716.9 1583.6 C717.8 1583.6 718.6 1584.1 719.5 1586.9 C720.4 1589.7 721.2 1594.7 722.1 1600.3 C723 1605.9 723.8 1614 724.6 1620.8 C725.5 1627.6 726.2 1634 727.2 1641.3 C728.2 1648.6 729.4 1658.3 730.5 1664.4 C731.6 1670.5 732 1672.2 733.6 1677.9 C735.2 1683.6 737.4 1691.9 740 1698.5 C742.6 1705.1 745.8 1711.9 749 1717.7 C752.2 1723.5 755.8 1728.4 759.2 1733.1 C762.6 1737.8 766.3 1742.4 769.5 1745.9 C772.7 1749.5 775.1 1751.6 778.5 1754.4 C781.9 1757.2 786 1759.8 790 1762.6 C794 1765.4 799.4 1769.6 802.8 1771.5 C806.2 1773.4 808.4 1772.8 810.5 1774.1 C812.6 1775.4 813.7 1778.6 815.6 1779.2 C817.5 1779.8 819.8 1777.8 822.1 1777.9 C824.5 1778 826.9 1778.8 829.7 1780 C832.5 1781.2 835.7 1783.7 838.7 1784.9 C841.7 1786.1 845.4 1786.5 847.7 1787.4 C850.1 1788.3 851.3 1790 852.8 1790.3 C854.3 1790.6 855.4 1788.9 856.7 1789 C858 1789.1 859 1790.9 860.5 1790.8 C862 1790.7 863.9 1788.5 865.6 1788.2 C867.3 1787.9 868.9 1787.9 870.8 1789 C872.7 1790.1 875.5 1792.9 877.2 1794.6 C878.9 1796.3 879.7 1798.5 881 1799.2 C882.3 1799.9 882.5 1798 884.9 1798.5 C887.2 1799 892.1 1801.5 895.1 1802.3 C898.1 1803.1 899.8 1802.8 902.8 1803.6 C905.8 1804.4 910.8 1806.9 913.1 1807.4 C915.5 1807.9 915.4 1806.3 916.9 1806.7 C918.4 1807.1 920.4 1809.7 922.1 1810 C923.8 1810.3 925.3 1808.6 927.2 1808.7 C929.1 1808.8 932.4 1810.5 933.4 1810.8" stroke="#248238"/>
</g>
<g class="ln" stroke-width="3.55">
<path d="M474 1682.2 H533.5" stroke="#231f20" stroke-width="3.3" stroke-dasharray="0 7.08"/>
<path d="M474.2 1723.8 H533.2" stroke="#e8661f" stroke-dasharray="10.7 14.3"/>
<path d="M474.2 1765.3 H498.7 M527 1765.3 H533.2" stroke="#6f3297"/>
<path d="M474.2 1806.9 H533.2" stroke="#248238"/>
</g>
<g class="lg" font-size="21.9">
<text transform="translate(539.8 1689.5) scale(0.94 1)">P-40</text>
<text transform="translate(539.8 1731.1) scale(0.94 1)">P-100</text>
<text transform="translate(539.8 1772.6) scale(0.94 1)">P-120</text>
<text transform="translate(539.8 1814.2) scale(0.94 1)">P-200</text>
</g>
<text class="cap" x="534.6" y="2001.5" font-size="41" text-anchor="middle">(b)</text>
</g>
<g id="table-c">
<g stroke="#231f20" stroke-width="4.1" fill="none" stroke-linecap="square">
<path d="M29.9 2059.7 H972.7 V2400.0 H29.9 Z M29.9 2122.5 H972.7 M29.9 2178.7 H972.7 M29.9 2233.6 H972.7 M29.9 2289.3 H972.7 M29.9 2345.2 H972.7 M218.1 2059.7 V2400.0 M407.0 2122.5 V2400.0 M596.0 2122.5 V2400.0 M784.4 2122.5 V2400.0" stroke-linecap="butt" stroke-linejoin="miter"/>
</g>
<text class="lg" style="fill:#231f20" transform="translate(599.9 2107.7)" font-size="39" text-anchor="middle">Peak temperatures (<tspan font-size="26.5" dy="-21.5">o</tspan><tspan dy="21.5">C)</tspan></text>
<g class="tb" font-size="38">
<text x="312.6" y="2163.1" text-anchor="middle">Peak 1</text>
<text x="501.5" y="2163.1" text-anchor="middle">Peak 2</text>
<text x="690.2" y="2163.1" text-anchor="middle">Peak 3</text>
<text x="878.5" y="2163.1" text-anchor="middle">Peak 4</text>
<text x="36.3" y="2219.2" fill="#231f20" letter-spacing="0.45">P-40</text>
<text x="399.8" y="2219.2" text-anchor="end">270.57</text>
<text x="588.8" y="2219.2" text-anchor="end">330.27</text>
<text x="777.2" y="2219.2" text-anchor="end">390.09</text>
<text x="36.3" y="2274.4" fill="#f47b20" letter-spacing="0.45">P-100</text>
<text x="399.8" y="2274.4" text-anchor="end">269.69</text>
<text x="588.8" y="2274.4" text-anchor="end">331.29</text>
<text x="777.2" y="2274.4" text-anchor="end">372.09</text>
<text x="965.5" y="2274.4" text-anchor="end">391.02</text>
<text x="36.3" y="2330.3" fill="#6f3296" letter-spacing="0.45">P-120</text>
<text x="399.8" y="2330.3" text-anchor="end">290.20</text>
<text x="588.8" y="2330.3" text-anchor="end">330.11</text>
<text x="777.2" y="2330.3" text-anchor="end">350.55</text>
<text x="965.5" y="2330.3" text-anchor="end">409.08</text>
<text x="36.3" y="2385.9" fill="#0f5a24" letter-spacing="0.45">P-200</text>
<text x="399.8" y="2385.9" text-anchor="end">301.90</text>
<text x="588.8" y="2385.9" text-anchor="end">335.76</text>
<text x="777.2" y="2385.9" text-anchor="end">362.72</text>
<text x="965.5" y="2385.9" text-anchor="end">421.83</text>
</g>
<text class="cap" x="534.6" y="2447.4" font-size="41" text-anchor="middle">(c)</text>
</g>
</g>
</svg>
</body>
</html>
